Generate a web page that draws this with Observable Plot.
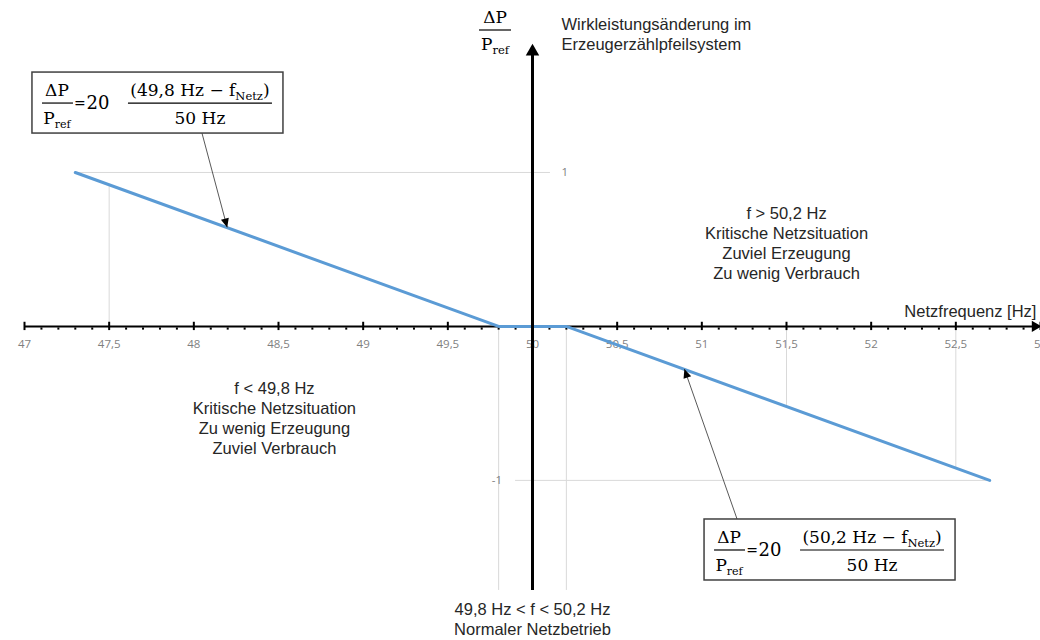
<!DOCTYPE html>
<html>
<head>
<meta charset="utf-8">
<script src="https://cdn.jsdelivr.net/npm/d3@7"></script>
<script src="https://cdn.jsdelivr.net/npm/@observablehq/plot@0.6"></script>
<style>
  html, body { margin: 0; padding: 0; background: #ffffff; }
  svg { display: block; }
</style>
</head>
<body>
<div id="chart"></div>
<script>
// ---- data ----
const freq  = [47.3, 49.8, 50.2, 52.7];   // Netzfrequenz [Hz]
const power = [1, 0, 0, -1];              // ΔP / P_ref
const majorTicks  = [47, 47.5, 48, 48.5, 49, 49.5, 50, 50.5, 51, 51.5, 52, 52.5, 53];
const majorLabels = ["47", "47,5", "48", "48,5", "49", "49,5", "50", "50,5", "51", "51,5", "52", "52,5", "53"];
const yTicks      = [1, -1];
const yTickLabels = ["1", "-1"];
const dropFreqs   = [47.5, 51.5, 52.5];
const bandEdges   = [49.8, 50.2];
const calloutFreqs = [48.2, 50.9];
const calloutLimits = ["49,8", "50,2"];
const textHigh = "f > 50,2 Hz\nKritische Netzsituation\nZuviel Erzeugung\nZu wenig Verbrauch";
const textLow  = "f < 49,8 Hz\nKritische Netzsituation\nZu wenig Erzeugung\nZuviel Verbrauch";
const textNorm = "49,8 Hz < f < 50,2 Hz\nNormaler Netzbetrieb";
const textYAxis = "Wirkleistungsänderung im\nErzeugerzählpfeilsystem";
const textXAxis = "Netzfrequenz [Hz]";

const series = freq.map((f, i) => ({f, p: power[i]}));
const lineVal = d3.scaleLinear().domain(freq).range(power);
const minorTicks = d3.range(470, 531, 1).map(d => d / 10).filter(d => Math.abs(d * 2 - Math.round(d * 2)) > 1e-6);

const grid = "#d9d9d9";
const ink = "#262626";
const sans = "'Liberation Sans', Arial, sans-serif";

const plot = Plot.plot({
  width: 1040, height: 640,
  marginLeft: 24, marginRight: 0, marginTop: 0, marginBottom: 0,
  x: {domain: [47, 53], axis: null},
  y: {domain: [-2.04, 2.117], axis: null},
  style: {fontFamily: sans, background: "white", overflow: "visible"},
  marks: [
    Plot.ruleY([1], {x1: freq[0], x2: 50.106, stroke: grid, strokeWidth: 1}),
    Plot.ruleY([-1], {x1: 49.9, x2: freq[3], stroke: grid, strokeWidth: 1}),
    Plot.ruleX(dropFreqs, {x: d => d, y1: d => lineVal(d), y2: 0, stroke: grid, strokeWidth: 1}),
    Plot.ruleX(bandEdges, {x: d => d, y1: 0, y2: -1.715, stroke: grid, strokeWidth: 1}),
    // x axis
    Plot.ruleY([0], {x1: 47, x2: 52.96, stroke: "black", strokeWidth: 2}),
    Plot.ruleX(majorTicks, {x: d => d, y1: -0.027, y2: 0.027, stroke: "black", strokeWidth: 2}),
    Plot.ruleX(minorTicks, {x: d => d, y1: -0.01, y2: -0.024, stroke: "black", strokeWidth: 2}),
    Plot.text(majorTicks, {x: d => d, y: -0.118, text: (d, i) => majorLabels[i], fill: "#7f7f7f", fontSize: 11.5, fontFamily: "'Open Sans', sans-serif"}),
    Plot.dot([0], {x: 52.968, y: 0, symbol: "triangle", r: 4.2, fill: "black", stroke: null, rotate: 90}),
    // series
    Plot.line(series, {x: "f", y: "p", stroke: "#5b9bd5", strokeWidth: 3}),
    // y axis
    Plot.text(yTicks, {x: d => d > 0 ? 50.19 : 49.79, y: d => d, text: (d, i) => yTickLabels[i], fill: "#7f7f7f", fontSize: 11.5, fontFamily: "'Open Sans', sans-serif"}),
    Plot.ruleX([50], {y1: -1.715, y2: 1.76, stroke: "black", strokeWidth: 3}),
    Plot.dot([0], {x: 50, y: 1.785, symbol: "triangle", r: 5, fill: "black", stroke: null}),
    // annotations
    Plot.text([textHigh], {x: 51.5, y: 0.545, text: d => d, fontSize: 16.5, lineHeight: 1.21, fill: ink}),
    Plot.text([textLow], {x: 48.476, y: -0.591, text: d => d, fontSize: 16.5, lineHeight: 1.21, fill: ink}),
    Plot.text([textNorm], {x: 50, y: -1.897, text: d => d, fontSize: 16.5, lineHeight: 1.21, fill: ink}),
    Plot.text([textYAxis], {x: 50.171, y: 1.902, text: d => d, fontSize: 16.5, lineHeight: 1.21, textAnchor: "start", fill: ink}),
    Plot.text([textXAxis], {x: 52.976, y: 0.095, text: d => d, fontSize: 16.5, textAnchor: "end", fill: ink})
  ]
});
document.getElementById("chart").appendChild(plot);

// ---- formula callouts ----
const svg = d3.select(plot);
const sx = v => plot.scale("x").apply(v);
const sy = v => plot.scale("y").apply(v);
const serif = "'DejaVu Serif', serif";

svg.append("defs").append("marker")
  .attr("id", "ah").attr("viewBox", "0 0 10 10").attr("refX", 10).attr("refY", 5)
  .attr("markerWidth", 10).attr("markerHeight", 9).attr("markerUnits", "userSpaceOnUse")
  .attr("orient", "auto")
  .append("path").attr("d", "M0,0.5L10,5L0,9.5Z").attr("fill", "#000");

function fraction(g, cx, num, den) {
  num(g.append("text").attr("x", cx).attr("y", 24).attr("text-anchor", "middle"));
  den(g.append("text").attr("x", cx).attr("y", 52).attr("text-anchor", "middle"));
}

function formulaBox(gx, gy, limit) {
  const g = svg.append("g").attr("transform", `translate(${gx},${gy})`)
    .attr("font-family", serif).attr("font-size", 17).attr("fill", "#000");
  g.append("rect").attr("width", 251).attr("height", 61).attr("fill", "white")
    .attr("stroke", "#404040").attr("stroke-width", 1.5);
  fraction(g, 25,
    t => t.text("ΔP"),
    t => { t.append("tspan").text("P"); t.append("tspan").attr("font-size", 11).attr("dy", 4).text("ref"); });
  g.append("line").attr("x1", 10).attr("x2", 41).attr("y1", 31).attr("y2", 31).attr("stroke", "#000").attr("stroke-width", 1.2);
  g.append("text").attr("x", 48).attr("y", 36).attr("font-size", 14).text("=");
  g.append("text").attr("x", 66).attr("y", 37).attr("font-size", 18).text("20");
  fraction(g, 168,
    t => { t.append("tspan").text(`(${limit} Hz − f`); t.append("tspan").attr("font-size", 11.5).attr("dy", 4).text("Netz"); t.append("tspan").attr("dy", -4).text(")"); },
    t => t.text("50 Hz"));
  g.append("line").attr("x1", 96).attr("x2", 240).attr("y1", 31).attr("y2", 31).attr("stroke", "#000").attr("stroke-width", 1.2);
}

// callout 1 (upper left)
const b1x = sx(47.047), b1y = sy(1.649);
svg.append("line").attr("x1", b1x + 170).attr("y1", b1y + 61)
  .attr("x2", sx(calloutFreqs[0])).attr("y2", sy(lineVal(calloutFreqs[0])))
  .attr("stroke", "#595959").attr("stroke-width", 1).attr("marker-end", "url(#ah)");
formulaBox(b1x, b1y, calloutLimits[0]);

// callout 2 (lower right)
const b2x = sx(51.016), b2y = sy(-1.254);
svg.append("line").attr("x1", b2x + 33).attr("y1", b2y)
  .attr("x2", sx(calloutFreqs[1])).attr("y2", sy(lineVal(calloutFreqs[1])))
  .attr("stroke", "#595959").attr("stroke-width", 1).attr("marker-end", "url(#ah)");
formulaBox(b2x, b2y, calloutLimits[1]);

// y axis label ΔP / P_ref
const ly = svg.append("g").attr("font-family", serif).attr("font-size", 17).attr("fill", "#000");
ly.append("text").attr("x", sx(50) - 37).attr("y", 23).attr("text-anchor", "middle").text("ΔP");
ly.append("line").attr("x1", sx(50) - 53).attr("x2", sx(50) - 21).attr("y1", 30).attr("y2", 30).attr("stroke", "#000").attr("stroke-width", 1.2);
const pt = ly.append("text").attr("x", sx(50) - 37).attr("y", 50).attr("text-anchor", "middle");
pt.append("tspan").text("P");
pt.append("tspan").attr("font-size", 11.5).attr("dy", 4).text("ref");
</script>
</body>
</html>
